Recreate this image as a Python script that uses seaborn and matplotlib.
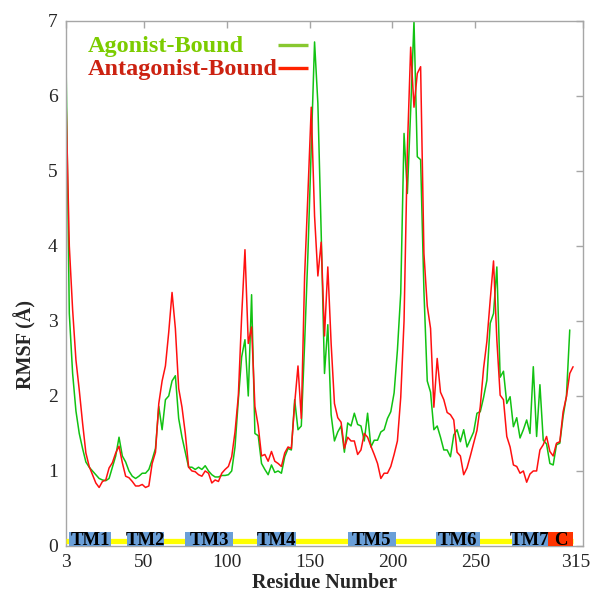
import numpy as np
import pandas as pd
import matplotlib
matplotlib.use("Agg")
import matplotlib.pyplot as plt
import matplotlib.transforms as mtransforms
import seaborn as sns

# Residue numbering (sampled every second residue)
residue = np.arange(3, 310, 2)

agonist = [
    6.5, 3.1, 2.3, 1.8, 1.5, 1.3, 1.12, 1.05, 1.0, 0.95,
    0.9, 0.88, 0.87, 0.9, 1.05, 1.2, 1.45, 1.2, 1.12, 1.0,
    0.93, 0.9, 0.93, 0.97, 0.97, 1.02, 1.15, 1.3, 1.86, 1.55,
    1.95, 2.0, 2.2, 2.27, 1.7, 1.45, 1.25, 1.05, 1.05, 1.02,
    1.05, 1.02, 1.07, 1.0, 0.95, 0.92, 0.92, 0.94, 0.94, 0.95,
    1.0, 1.32, 1.95, 2.52, 2.75, 2.0, 3.35, 1.5, 1.47, 1.1,
    1.02, 0.95, 1.08, 0.98, 1.0, 0.97, 1.19, 1.3, 1.28, 1.95,
    1.55, 1.6, 2.7, 3.9, 5.3, 6.72, 5.9, 4.17, 2.3, 2.95,
    1.75, 1.4, 1.52, 1.6, 1.25, 1.64, 1.6, 1.77, 1.62, 1.6,
    1.4, 1.77, 1.32, 1.41, 1.41, 1.52, 1.55, 1.7, 1.79, 2.04,
    2.61, 3.37, 5.5, 4.7, 5.81, 7.0, 5.19, 5.15, 3.4, 2.2,
    2.05, 1.55, 1.6, 1.45, 1.28, 1.28, 1.19, 1.48, 1.55, 1.39,
    1.55, 1.32, 1.42, 1.52, 1.77, 1.79, 1.98, 2.21, 2.97, 3.1,
    3.72, 2.25, 2.33, 1.9, 1.99, 1.59, 1.71, 1.44, 1.55, 1.68,
    1.5, 2.39, 1.46, 2.15, 1.41, 1.36, 1.1, 1.08, 1.35, 1.37,
    1.73, 2.0, 2.88, np.nan,
]

antagonist = [
    6.0, 4.0, 3.15, 2.48, 2.08, 1.64, 1.24, 1.06, 0.95, 0.84,
    0.78, 0.86, 0.88, 1.04, 1.11, 1.24, 1.33, 1.11, 0.93, 0.91,
    0.86, 0.8, 0.8, 0.82, 0.78, 0.8, 1.1, 1.25, 1.9, 2.2,
    2.4, 2.85, 3.38, 2.9, 2.1, 1.85, 1.5, 1.05, 1.0, 0.99,
    0.95, 0.93, 1.0, 0.97, 0.84, 0.88, 0.86, 0.97, 1.02, 1.06,
    1.19, 1.52, 2.0, 3.06, 3.95, 2.7, 2.92, 1.86, 1.6, 1.2,
    1.22, 1.13, 1.26, 1.13, 1.1, 1.06, 1.24, 1.32, 1.3, 1.9,
    2.4, 1.7, 3.6, 4.7, 5.85, 4.4, 3.6, 4.05, 2.8, 3.72,
    2.7, 1.9, 1.71, 1.65, 1.3, 1.45, 1.4, 1.4, 1.22, 1.28,
    1.5, 1.45, 1.33, 1.22, 1.1, 0.9, 0.97, 0.97, 1.06, 1.22,
    1.4, 1.98, 3.0, 5.28, 6.65, 5.85, 6.3, 6.39, 3.9, 3.2,
    2.9, 1.85, 2.5, 2.05, 1.95, 1.78, 1.75, 1.68, 1.25, 1.2,
    0.95, 1.04, 1.2, 1.37, 1.54, 1.86, 2.37, 2.73, 3.28, 3.8,
    2.75, 2.01, 1.95, 1.46, 1.32, 1.08, 1.06, 0.97, 1.0, 0.85,
    0.96, 1.0, 1.0, 1.28, 1.35, 1.46, 1.26, 1.2, 1.37, 1.39,
    1.79, 1.99, 2.3, 2.39,
]

# Secondary-structure segments along the sequence
segment_names = ["TM1", "TM2", "TM3", "TM4", "TM5", "TM6", "TM7", "C"]
segment_start = [5, 40, 75, 118, 173, 226, 272, 294]
segment_end = [30, 62, 104, 142, 202, 253, 294, 309]

x_ticks = [3, 50, 100, 150, 200, 250, 315]

series_names = ["Agonist-Bound", "Antagonist-Bound"]

df = pd.DataFrame({"residue": residue, series_names[0]: agonist,
                   series_names[1]: antagonist})

sns.set_style("white")
serif = ["Liberation Serif", "DejaVu Serif"]
plt.rcParams["font.family"] = serif

grey = "#a6a6a6"
fig = plt.figure(figsize=(5.94, 5.95), dpi=100)
ax = fig.add_axes([0.1111, 0.0824, 0.8704, 0.8824])

sns.lineplot(data=df, x="residue", y=series_names[0], color="#12c212",
             lw=1.1, estimator=None, ax=ax, legend=False)
sns.lineplot(data=df, x="residue", y=series_names[1], color="#ff1010",
             lw=1.1, estimator=None, ax=ax, legend=False)

# Sequence track with helix boxes
ax.hlines(0.07, residue.min(), residue.max(), color="#ffff00", lw=3.8, zorder=3)
widths = [e - s for s, e in zip(segment_start, segment_end)]
box_colors = ["#6a9fd8"] * 7 + ["#ff3300"]
ax.barh(y=0.0, width=widths, left=segment_start, height=0.18, align="edge",
        color=box_colors, edgecolor="none", zorder=4)
for name, s, e in zip(segment_names, segment_start, segment_end):
    ax.text((s + e) / 2, 0.075, name, ha="center", va="center",
            fontsize=13.5, fontweight="bold", color="black", zorder=5)

ax.set_xlim(3, 315)
ax.set_ylim(0, 7)
ax.set_xticks(x_ticks)
ax.set_yticks(range(0, 8))
ax.tick_params(axis="both", direction="in", length=5, width=1, color=grey,
               labelsize=14, top=True, right=True, pad=6)
for sp in ax.spines.values():
    sp.set_color(grey)
    sp.set_linewidth(1.0)

# Last x tick label sits slightly inside the frame
last = ax.get_xticklabels()[-1]
last.set_transform(last.get_transform() +
                   mtransforms.ScaledTranslation(-0.07, 0, fig.dpi_scale_trans))

ax.set_xlabel("Residue Number", fontsize=14.5, fontweight="bold", labelpad=1)
ax.set_ylabel("RMSF (Å)", fontsize=14.5, fontweight="bold")
ax.yaxis.set_label_coords(-0.058, 0.383)

# Key: labels left-aligned, line samples in a column to the right
key_text_colors = ["#7ccc00", "#cc2211"]
key_line_colors = ["#88c830", "#ff2200"]
key_text_y = [0.9415, 0.897]
key_line_y = [0.954, 0.910]
for name, tc, lc, ty, ly in zip(series_names, key_text_colors, key_line_colors,
                                key_text_y, key_line_y):
    ax.text(0.0426, ty, name, transform=ax.transAxes, ha="left", va="baseline",
            fontsize=17.5, fontweight="bold", color=tc)
    ax.plot([0.41, 0.468], [ly, ly], transform=ax.transAxes, color=lc,
            lw=2.4, solid_capstyle="butt", clip_on=False)

fig.savefig("out.png", dpi=100)
